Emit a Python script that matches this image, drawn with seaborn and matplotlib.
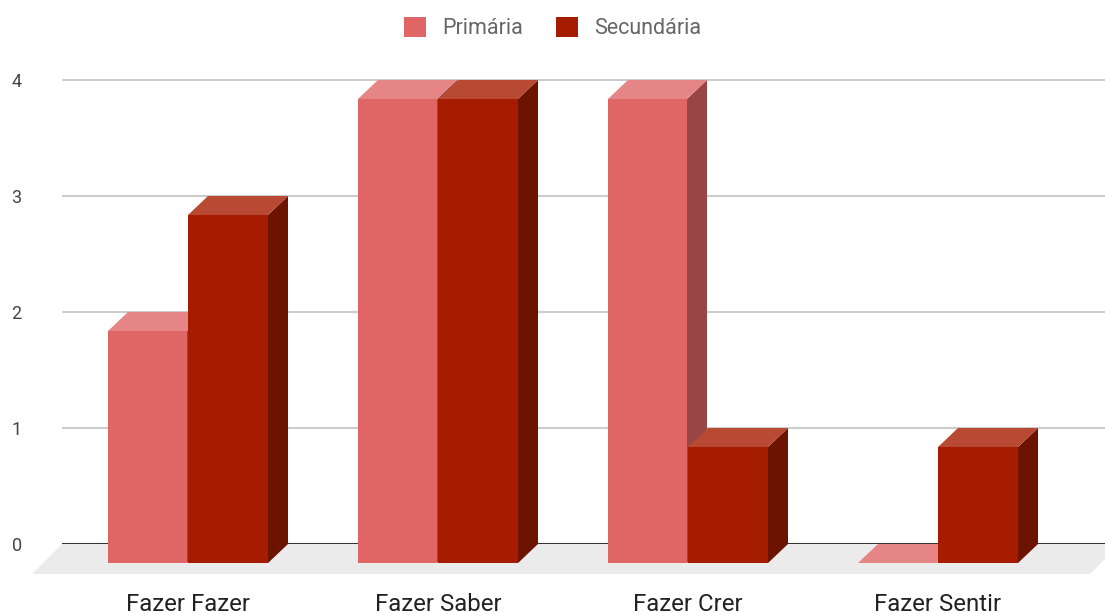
import numpy as np
import pandas as pd
import matplotlib
matplotlib.use("Agg")
import matplotlib.pyplot as plt
from matplotlib.patches import Polygon, Patch
from matplotlib.transforms import Affine2D
import seaborn as sns

# Data
categories = ["Fazer Fazer", "Fazer Saber", "Fazer Crer", "Fazer Sentir"]
series_names = ["Primária", "Secundária"]
primaria = [2, 4, 4, 0]
secundaria = [3, 4, 1, 1]
y_ticks = [0, 1, 2, 3, 4]

# Face colours: front, top, side
front_colors = {"Primária": "#E06666", "Secundária": "#A61C00"}
top_colors = {"Primária": "#E68585", "Secundária": "#B84A33"}
side_colors = {"Primária": "#974545", "Secundária": "#6C1400"}

df = pd.DataFrame({
    "categoria": categories * 2,
    "nivel": [series_names[0]] * 4 + [series_names[1]] * 4,
    "valor": primaria + secundaria,
})

sns.set_theme(style="white")
plt.rcParams["font.family"] = ["Roboto", "DejaVu Sans"]

W, H = 1105, 612
fig = plt.figure(figsize=(W / 100, H / 100), dpi=100)
ax_left, ax_right = 62, 1105
ax_top, ax_bottom = 60, 544
ax = fig.add_axes([ax_left / W, (H - ax_bottom) / H,
                   (ax_right - ax_left) / W, (ax_bottom - ax_top) / H])

unit_px_x = 250.0   # pixels per category
unit_px_y = 116.0   # pixels per value unit
first_center = 208.0

sns.barplot(data=df, x="categoria", y="valor", hue="nivel", order=categories,
            hue_order=series_names, palette=front_colors, width=0.64,
            saturation=1, legend=False, ax=ax, linewidth=0)
ax.set_xlim((ax_left - first_center) / unit_px_x, (ax_right - first_center) / unit_px_x)
ax.set_ylim(0, (ax_bottom - ax_top) / unit_px_y)

# depth of the boxes in data units
dx = 20.0 / unit_px_x
dy = 19.0 / unit_px_y
front_shift = Affine2D().translate(-dx, -dy) + ax.transData
gap = 1.0 / unit_px_x

for p in ax.patches:
    x0 = p.get_x()
    w = p.get_width()
    h = p.get_height()
    x1 = x0 + w
    cx = x0 + w / 2
    cat = int(round(cx))
    lvl = 0 if cx < cat else 1
    name = series_names[lvl]
    z = 3 + cat * 2 + lvl
    # leave a hairline between neighbouring bars
    if lvl == 0:
        p.set_width(w - gap)
        x1 = x0 + w - gap
    p.set_transform(front_shift)
    p.set_clip_on(False)
    p.set_zorder(z + 0.3)
    p.set_edgecolor("none")
    # top face
    top = Polygon([(x0, h), (x1, h), (x1 - dx, h - dy), (x0 - dx, h - dy)],
                  closed=True, facecolor=top_colors[name], edgecolor="none",
                  zorder=z + 0.2, clip_on=False)
    ax.add_patch(top)
    # side face
    if h > 0:
        side = Polygon([(x1, h), (x1, 0), (x1 - dx, -dy), (x1 - dx, h - dy)],
                       closed=True, facecolor=side_colors[name], edgecolor="none",
                       zorder=z + 0.1, clip_on=False)
        ax.add_patch(side)

# floor
xl, xr = ax.get_xlim()
fdx = 30.0 / unit_px_x
fdy = 30.0 / unit_px_y
ext = 15.0 / unit_px_x
floor = Polygon([(xl, 0), (xr + ext, 0), (xr + ext - fdx, -fdy), (xl - fdx, -fdy)],
                closed=True, facecolor="#EBEBEB", edgecolor="none", zorder=0.5, clip_on=False)
ax.add_patch(floor)

# grid lines
for t in y_ticks[1:]:
    ax.axhline(t, color="#CCCCCC", linewidth=1.5, zorder=1)
ax.axhline(0, color="#333333", linewidth=1.5, zorder=1)

sns.despine(ax=ax, left=True, bottom=True, top=True, right=True)
ax.set_yticks(y_ticks)
ax.set_yticklabels([str(t) for t in y_ticks])
ax.set_xticks(np.arange(len(categories)) - dx)
ax.set_xticklabels(categories)
ax.tick_params(axis="y", length=0, pad=29, labelsize=13, labelcolor="#444444")
ax.tick_params(axis="x", length=0, pad=35, labelsize=17.3, labelcolor="#222222")
ax.set_xlabel("")
ax.set_ylabel("")
ax.grid(False)

handles = [Patch(facecolor=front_colors[n], edgecolor="none", label=n) for n in series_names]
fig.legend(handles=handles, loc="center", bbox_to_anchor=(0.5, 1 - 28 / H), ncol=2,
           frameon=False, fontsize=15.5, labelcolor="#666666", handlelength=1.05,
           handleheight=1.05, handletextpad=0.75, columnspacing=1.5)

fig.savefig("out.png", dpi=100)
